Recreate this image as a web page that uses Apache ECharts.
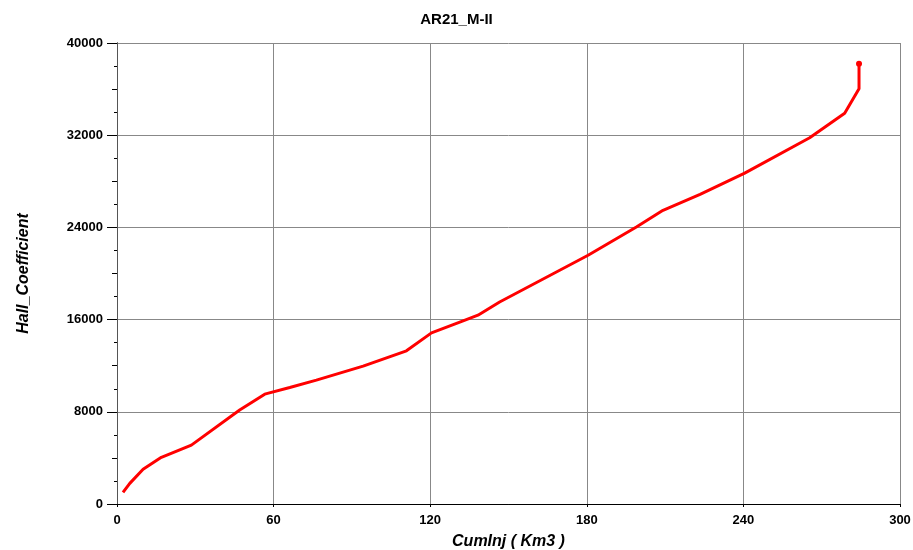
<!DOCTYPE html>
<html>
<head>
<meta charset="utf-8">
<title>AR21_M-II</title>
<script src="https://cdn.jsdelivr.net/npm/echarts@6/dist/echarts.min.js"></script>
<style>
  html, body { margin: 0; padding: 0; background: #fff; }
  #chart { width: 913px; height: 550px; }
</style>
</head>
<body>
<div id="chart"></div>
<script>
// CumInj (Km3)
const cumInj = [2.3, 4.9, 10.0, 17.0, 28.5, 47.0, 56.6, 66.2, 76.4, 94.3, 110.9, 120.5,
  132.6, 138.3, 146.6, 180.5, 199.0, 209.2, 223.4, 240.5, 265.4, 278.8, 284.3, 284.3]
// Hall_Coefficient
const hallCoef = [1010, 1790, 3010, 4050, 5110, 8150, 9530, 10110, 10750, 11960, 13290, 14850,
  15890, 16380, 17530, 21580, 24030, 25480, 26870, 28710, 31780, 33910, 36030, 38200]
const xTicks = [0, 60, 120, 180, 240, 300]
const yTicks = [0, 8000, 16000, 24000, 32000, 40000]

const chart = echarts.init(document.getElementById('chart'))

// 最后一个点画个小圆点
const points = cumInj.map((x, i) => {
  if (i === cumInj.length - 1) {
    return { value: [x, hallCoef[i]], symbol: 'circle', symbolSize: 6 }
  }
  return [x, hallCoef[i]]
})

const labelFont = { fontFamily: 'Liberation Sans, Arial', fontWeight: 'bold', fontSize: 13, color: '#000' }
const nameFont = { fontFamily: 'Liberation Sans, Arial', fontWeight: 'bold', fontStyle: 'italic', fontSize: 16, color: '#000' }
const xStep = xTicks[1] - xTicks[0]
const yStep = yTicks[1] - yTicks[0]

const option = {
  animation: false,
  title: {
    text: 'AR21_M-II',
    left: 'center',
    top: 7,
    textStyle: { fontFamily: 'Liberation Sans, Arial', fontWeight: 'bold', fontSize: 15, color: '#000' }
  },
  grid: { left: 117, right: 13, top: 43, bottom: 46, containLabel: false, outerBoundsMode: 'none' },
  xAxis: [{
    type: 'value',
    min: xTicks[0],
    max: xTicks[xTicks.length - 1],
    interval: xStep,
    name: 'CumInj ( Km3 )',
    nameLocation: 'middle',
    nameGap: 30,
    nameTextStyle: nameFont,
    axisLine: { show: true, onZero: false, lineStyle: { color: '#000', width: 1 } },
    axisTick: { show: true, length: 3, lineStyle: { color: '#000' } },
    axisLabel: Object.assign({ margin: 10, formatter: v => String(v) }, labelFont),
    splitLine: { show: true, lineStyle: { color: '#888', width: 1 } }
  }, {
    // 上边框
    type: 'value',
    position: 'top',
    min: xTicks[0],
    max: xTicks[xTicks.length - 1],
    interval: xStep,
    axisLine: { show: true, lineStyle: { color: '#000', width: 1 } },
    axisTick: { show: false },
    axisLabel: { show: false },
    splitLine: { show: false }
  }],
  yAxis: [{
    type: 'value',
    min: yTicks[0],
    max: yTicks[yTicks.length - 1],
    interval: yStep,
    name: 'Hall_Coefficient',
    nameLocation: 'middle',
    nameGap: 85,
    nameRotate: 90,
    nameTextStyle: nameFont,
    axisLine: { show: true, onZero: false, lineStyle: { color: '#000', width: 1 } },
    axisTick: { show: true, length: 10, lineStyle: { color: '#000' } },
    minorTick: { show: true, splitNumber: 4, length: 3, lineStyle: { color: '#000' } },
    axisLabel: Object.assign({ margin: 14, formatter: v => String(v) }, labelFont),
    splitLine: { show: true, lineStyle: { color: '#888', width: 1 } }
  }, {
    // 中间的长刻度
    type: 'value',
    position: 'left',
    min: yTicks[0],
    max: yTicks[yTicks.length - 1],
    interval: yStep / 2,
    axisLine: { show: false },
    axisTick: { show: true, length: 5, lineStyle: { color: '#000' } },
    axisLabel: { show: false },
    splitLine: { show: false }
  }, {
    // 右边框
    type: 'value',
    position: 'right',
    min: yTicks[0],
    max: yTicks[yTicks.length - 1],
    interval: yStep,
    axisLine: { show: true, lineStyle: { color: '#555', width: 1 } },
    axisTick: { show: false },
    axisLabel: { show: false },
    splitLine: { show: false }
  }],
  series: [{
    type: 'line',
    data: points,
    symbol: 'none',
    itemStyle: { color: '#ff0000' },
    lineStyle: { color: '#ff0000', width: 3 },
    smooth: false
  }]
}
chart.setOption(option)
</script>
</body>
</html>
